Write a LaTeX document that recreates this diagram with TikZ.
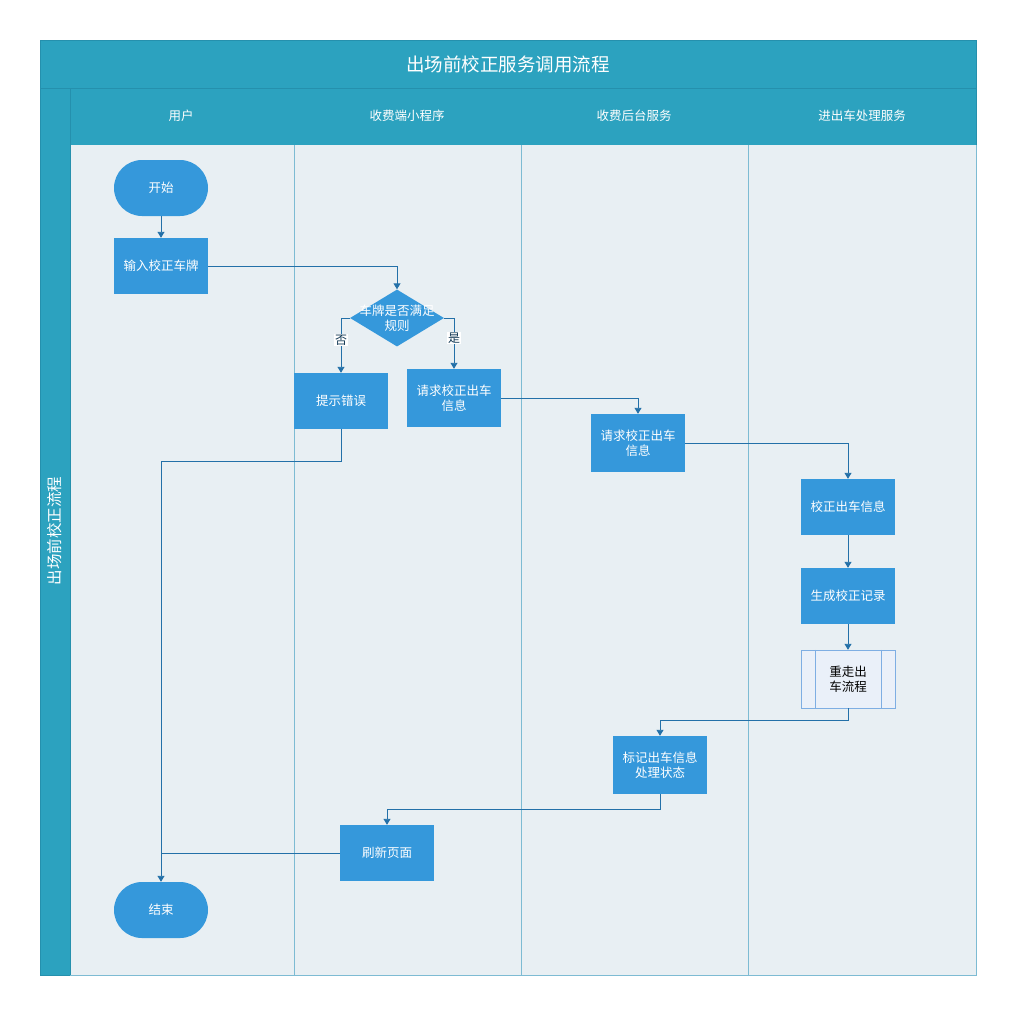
\documentclass[tikz,border=0pt]{standalone}
\usepackage{fontspec}
\setmainfont{Noto Sans CJK SC}
\usepackage{tikz}
\usetikzlibrary{arrows.meta,shapes.geometric,positioning}
\definecolor{poolbar}{HTML}{2CA2BF}
\definecolor{poolline}{HTML}{2590AD}
\definecolor{lanebg}{HTML}{E8EFF3}
\definecolor{laneline}{HTML}{7DBBD3}
\definecolor{stepfill}{HTML}{3598DB}
\definecolor{flowline}{HTML}{2370A8}
\definecolor{subfill}{HTML}{EAF0F9}
\definecolor{subline}{HTML}{7EAEE3}

\begin{document}
\begin{tikzpicture}[x=1pt, y=-1pt,
    stepbox/.style={rectangle, fill=stepfill, text=white, minimum width=94pt, minimum height=56pt,
      inner sep=2pt, align=center, font=\fontsize{12.5}{15}\selectfont},
    terminal/.style={stepbox, rounded corners=28pt},
    decision/.style={diamond, fill=stepfill, minimum width=94pt, minimum height=57pt, inner sep=0pt},
    subproc/.style={stepbox, fill=subfill, draw=subline, text=black, minimum height=58pt},
    flow/.style={draw=flowline, line width=0.9pt, -{Triangle[width=7pt,length=6pt]}},
    plain/.style={draw=flowline, line width=0.9pt},
    branch/.style={fill=white, inner sep=0.6pt, text=flowline!50!black, font=\fontsize{12}{14}\selectfont},
    lanehead/.style={text=white, font=\fontsize{12.5}{15}\selectfont}]
    \useasboundingbox (0,0) rectangle (1013,1013);

    % 1. Pool and lanes
    \fill[lanebg] (70,145) rectangle (976,975);
    \fill[poolbar] (40,40) rectangle (976,145);
    \fill[poolbar] (40,88) rectangle (70,975);
    \draw[poolline, line width=0.8pt] (40,40) rectangle (976,975);
    \draw[poolline, line width=0.8pt] (40,88) -- (976,88);
    \draw[poolline, line width=0.8pt] (70,88) -- (70,975);
    \draw[laneline, line width=0.8pt] (976,145) -- (976,975) -- (70,975);
    \foreach \x in {294,521,748}
      \draw[laneline, line width=0.8pt] (\x,145) -- (\x,975);

    % Titles
    \node[text=white, font=\fontsize{18.5}{22}\selectfont] (pooltitle) at (508,64) {出场前校正服务调用流程};
    \node[text=white, rotate=90, font=\fontsize{15.5}{18}\selectfont] (pooltag) at (55,531) {出场前校正流程};
    \node[lanehead] (laneuser) at (181,116) {用户};
    \node[lanehead] (laneapp) at (407,116) {收费端小程序};
    \node[lanehead] (lanesrv) at (634,116) {收费后台服务};
    \node[lanehead] (lanecar) at (862,116) {进出车处理服务};

    % 2. Steps
    \node[terminal] (start) at (161,188) {开始};
    \node[stepbox] (plate) at (161,266) {输入校正车牌};
    \node[decision] (rule) at (397,318) {};
    \node[text=white, align=center, font=\fontsize{12.5}{15}\selectfont] (ruletext) at (rule.center) {车牌是否满足\\规则};
    \node[stepbox] (error) at (341,401) {提示错误};
    \node[stepbox, minimum height=58pt] (askapp) at (454,398) {请求校正出车\\信息};
    \node[stepbox, minimum height=58pt] (asksrv) at (638,443) {请求校正出车\\信息};
    \node[stepbox] (fix) at (848,507) {校正出车信息};
    \node[stepbox] (record) at (848,596) {生成校正记录};
    \node[subproc] (redo) at (848,679) {重走出\\车流程};
    \draw[subline] ([xshift=14pt]redo.north west) -- ([xshift=14pt]redo.south west);
    \draw[subline] ([xshift=-14pt]redo.north east) -- ([xshift=-14pt]redo.south east);
    \node[stepbox, minimum height=58pt] (mark) at (660,765) {标记出车信息\\处理状态};
    \node[stepbox] (refresh) at (387,853) {刷新页面};
    \node[terminal] (finish) at (161,910) {结束};

    % 3. Connectors
    \draw[flow] (start) -- (plate);
    \draw[flow] (plate.east) -| (rule.north);
    \draw[flow] (rule.west) -| node[branch, pos=0.7] {否} (error.north);
    \draw[flow] (rule.east) -| node[branch, pos=0.7] {是} (askapp.north);
    \draw[flow] (askapp.east) -| (asksrv.north);
    \draw[flow] (asksrv.east) -| (fix.north);
    \draw[flow] (fix) -- (record);
    \draw[flow] (record) -- (redo);
    \draw[flow] (redo.south) -- ++(0,12) -| (mark.north);
    \draw[flow] (mark.south) -- ++(0,15) -| (refresh.north);
    \draw[flow] (error.south) -- ++(0,32) -| (finish.north);
    \coordinate (merge) at (finish.north |- refresh.west);
    \draw[plain] (refresh.west) -- (merge);
\end{tikzpicture}
\end{document}
